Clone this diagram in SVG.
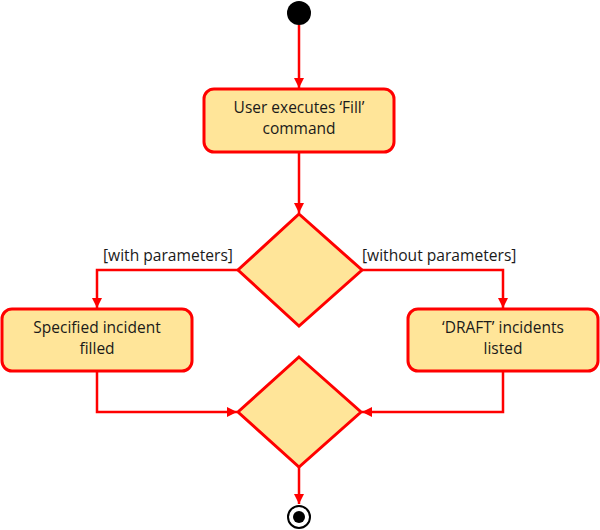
<svg xmlns="http://www.w3.org/2000/svg" width="600" height="530" viewBox="0 0 600 530">
<style>
.node{fill:#FFE599;stroke:#FF0000;stroke-width:3}
.t{font-family:"Open Sans","Noto Sans",sans-serif;font-size:15.5px;fill:#1a1a1a;text-anchor:middle}
.lbl{font-family:"Open Sans","Noto Sans",sans-serif;font-size:15.6px;fill:#1a1a1a}
.c{fill:none;stroke:#FF0000;stroke-width:2.5}
</style>
<defs>
<marker id="ah" viewBox="0 0 10 10" refX="10" refY="5" markerWidth="10" markerHeight="10" markerUnits="userSpaceOnUse" orient="auto">
<path d="M0,0 L10,5 L0,10 Z" fill="#FF0000"/>
</marker>
</defs>
<rect width="600" height="530" fill="#FFFFFF"/>
<g id="connectors">
<path class="c" d="M299,25 V88" marker-end="url(#ah)"/>
<path class="c" d="M299,152 V213" marker-end="url(#ah)"/>
<path class="c" d="M238,270 H97 V308" marker-end="url(#ah)"/>
<path class="c" d="M362,270 H503 V308" marker-end="url(#ah)"/>
<path class="c" d="M97,372 V412 H237" marker-end="url(#ah)"/>
<path class="c" d="M503,372 V412 H362" marker-end="url(#ah)"/>
<path class="c" d="M299,467 V504" marker-end="url(#ah)"/>
<text class="lbl" x="103" y="261">[with parameters]</text>
<text class="lbl" x="362" y="261">[without parameters]</text>
</g>
<g id="start">
<circle cx="299" cy="13" r="12" fill="#000000"/>
</g>
<g id="fill-command">
<rect class="node" x="204" y="89" width="190" height="63" rx="10"/>
<text class="t" x="299" y="113">User executes ‘Fill’</text>
<text class="t" x="299" y="134">command</text>
</g>
<g id="decision">
<polygon class="node" points="299,214 362,270 299,326 238,270"/>
</g>
<g id="specified-filled">
<rect class="node" x="2" y="309" width="190" height="62" rx="10"/>
<text class="t" x="97" y="333">Specified incident</text>
<text class="t" x="97" y="354">filled</text>
</g>
<g id="draft-listed">
<rect class="node" x="408" y="309" width="190" height="62" rx="10"/>
<text class="t" x="503" y="333">‘DRAFT’ incidents</text>
<text class="t" x="503" y="354">listed</text>
</g>
<g id="merge">
<polygon class="node" points="299,357 361,412 299,467 238,412"/>
</g>
<g id="end">
<circle cx="299" cy="517" r="11" fill="#FFFFFF" stroke="#000000" stroke-width="2"/>
<circle cx="299" cy="517" r="6" fill="#000000"/>
</g>
</svg>
